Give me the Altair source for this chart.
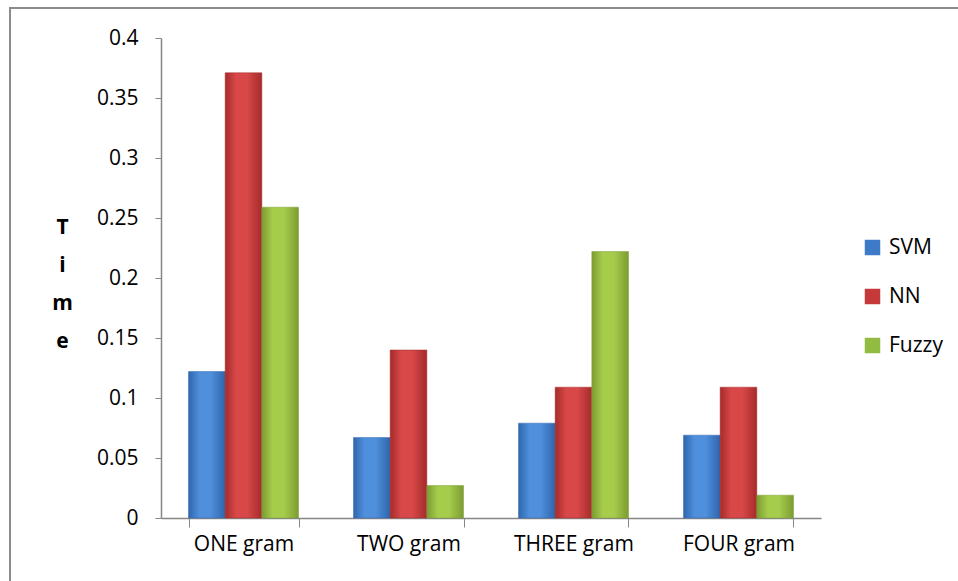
import altair as alt
import pandas as pd

categories = ["ONE gram", "TWO gram", "THREE gram", "FOUR gram"]
series = ["SVM", "NN", "Fuzzy"]
svm = [0.122, 0.067, 0.079, 0.069]
nn = [0.371, 0.140, 0.109, 0.109]
fuzzy = [0.259, 0.027, 0.222, 0.019]
y_ticks = [0, 0.05, 0.1, 0.15, 0.2, 0.25, 0.3, 0.35, 0.4]

rows = []
for name, vals in zip(series, [svm, nn, fuzzy]):
    for c, v in zip(categories, vals):
        rows.append({"gram": c, "method": name, "time": v})
df = pd.DataFrame(rows)

FONT = "Open Sans"
FS = 21
edge = {"SVM": "#2f66ad", "NN": "#a62b2b", "Fuzzy": "#7c9c31"}
mid = {"SVM": "#4f8fdc", "NN": "#d84848", "Fuzzy": "#a6cc4c"}
legend_cols = ["#3d7bc9", "#c43a3a", "#92bb42"]

xenc = alt.X("gram:N", sort=categories,
             scale=alt.Scale(paddingInner=0.3333, paddingOuter=0.1667),
             axis=alt.Axis(title=None, labelAngle=0, tickBand="extent",
                           domainColor="#868686", tickColor="#868686",
                           tickSize=9, labelPadding=6, labelFontSize=FS,
                           labelFont=FONT, labelColor="#000000", domainWidth=1.5))
yenc = alt.Y("time:Q", scale=alt.Scale(domain=[0, 0.4]),
             axis=alt.Axis(values=y_ticks, format="~g",
                           title=["T", "i", "m", "e"], titleAngle=0,
                           titleFont=FONT, titleFontSize=FS, titleFontWeight="bold",
                           titleLineHeight=38, titleX=-99, titleY=195,
                           titleAlign="center", titleBaseline="alphabetic",
                           titleColor="#000000",
                           grid=False, domainColor="#868686", tickColor="#868686",
                           tickSize=6, labelPadding=17, labelFontSize=FS,
                           labelFont=FONT, labelColor="#000000", domainWidth=1.5))
xoff = alt.XOffset("method:N", scale=alt.Scale(domain=series, paddingInner=0, paddingOuter=0))

layers = []
for s in series:
    grad = alt.Gradient(gradient="linear", x1=0, x2=1, y1=0, y2=0,
                        stops=[alt.GradientStop(color=edge[s], offset=0),
                               alt.GradientStop(color=mid[s], offset=0.3),
                               alt.GradientStop(color=mid[s], offset=0.6),
                               alt.GradientStop(color=edge[s], offset=1)])
    layers.append(
        alt.Chart(df).transform_filter(alt.datum.method == s)
        .mark_bar(fill=grad, stroke=edge[s], strokeWidth=0.5)
        .encode(x=xenc, y=yenc, xOffset=xoff)
    )

legend_layer = alt.Chart(df).mark_bar(opacity=0).encode(
    x=xenc, y=yenc, xOffset=xoff,
    color=alt.Color("method:N", sort=series,
                    scale=alt.Scale(domain=series, range=legend_cols),
                    legend=alt.Legend(title=None, orient="none", legendX=701, legendY=199,
                                      symbolType="square", symbolSize=240,
                                      symbolOpacity=1, symbolStrokeWidth=0,
                                      labelFont=FONT, labelFontSize=FS,
                                      labelColor="#000000", rowPadding=27,
                                      labelOffset=6))
)

frame = alt.Chart(df).mark_rect(fill=None, stroke="#8c8c8c", strokeWidth=2, clip=False).encode(
    x=alt.value(-151), x2=alt.value(900), y=alt.value(-30), y2=alt.value(700)
)

chart = alt.layer(frame, legend_layer, *layers).properties(
    width=660, height=480,
    autosize=alt.AutoSizeParams(type="none"),
    padding={"left": 161, "top": 38, "right": 137, "bottom": 63},
    background="#ffffff"
).configure_view(stroke=None)

chart.save("out.html", embed_options={"renderer": "svg", "actions": False})
